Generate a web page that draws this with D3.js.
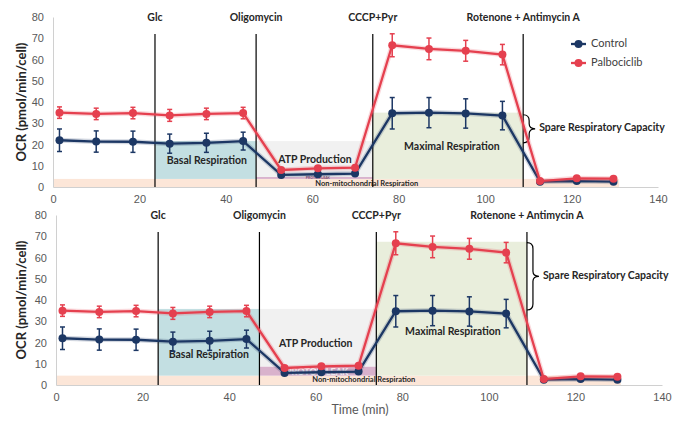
<!DOCTYPE html>
<html>
<head>
<meta charset="utf-8">
<script src="https://cdn.jsdelivr.net/npm/d3@7"></script>
<style>
 body { margin:0; background:#fff; }
 svg { font-family: Lato, "Open Sans", sans-serif; }
</style>
</head>
<body>
<div id="chart"></div>
<script>
// Data
var times      = [1.5, 10, 18.5, 27, 35.5, 44, 52.8, 61.3, 69.9, 78.5, 87, 95.5, 104, 112.7, 121.2, 129.7];
var control    = [22.0, 21.4, 21.3, 20.4, 20.8, 21.6, 5.7, 6.0, 6.3, 34.7, 35.0, 34.6, 33.6, 2.5, 2.8, 2.5];
var controlErr = [5.3, 5.0, 5.0, 4.5, 4.5, 4.2, 0.8, 0.8, 0.8, 7.4, 7.1, 6.9, 6.7, 0.5, 0.5, 0.5];
var palbo      = [35.0, 34.4, 34.8, 33.7, 34.4, 34.8, 8.0, 8.8, 9.1, 66.7, 65.0, 64.1, 62.3, 2.8, 4.1, 3.9];
var palboErr   = [2.7, 2.7, 2.7, 2.8, 2.7, 2.7, 1.0, 1.0, 1.0, 5.4, 5.1, 4.9, 4.8, 0.6, 0.7, 0.7];
var injections = ["Glc", "Oligomycin", "CCCP+Pyr", "Rotenone + Antimycin A"];
var injectAt   = [23.6, 47, 74, 108.8];
var yTicks     = [0, 10, 20, 30, 40, 50, 60, 70, 80];
var xTicks     = [0, 20, 40, 60, 80, 100, 120, 140];

// shaded regions: [x0, x1, y0, y1] in data units, one list per panel
var topRegions = {
 nonMito: [0, 131, 0, 3.8],
 basal:   [23.6, 47, 3.8, 21.6],
 atp:     [47, 74, 4.7, 21.6],
 leak:    [47, 74, 3.8, 4.7],
 maximal: [74, 108.8, 3.8, 35]
};
var bottomRegions = {
 nonMito: [0, 130.5, 0, 4.4],
 basal:   [23.6, 47, 4.4, 35.8],
 atp:     [47, 74, 8.6, 35.8],
 leak:    [47, 74, 4.4, 8.6],
 maximal: [74, 108.8, 4.4, 67.4]
};
var topSpare = [20.8, 34];
var bottomSpare = [35.3, 67];

var W = 692, H = 422;
var navy = "#1c3764", red = "#e5404f";
var fills = {nonMito:"#fce6d8", basal:"#c3dfe2", atp:"#f1f1f1", leak:"#d9b2cc", maximal:"#e9eedc"};

var svg = d3.select("#chart").append("svg").attr("width", W).attr("height", H);

function drawPanel(cfg){
 var g = svg.append("g");
 var x = d3.scaleLinear().domain([0, 140]).range([cfg.left, cfg.right]);
 var y = d3.scaleLinear().domain([0, 80]).range([cfg.bottom, cfg.top]);
 var r = cfg.regions;

 // shaded areas
 Object.keys(r).forEach(function(k){
  var b = r[k];
  g.append("rect")
   .attr("x", x(b[0])).attr("width", x(b[1]) - x(b[0]))
   .attr("y", y(b[3])).attr("height", y(b[2]) - y(b[3]))
   .attr("fill", fills[k]);
 });

 // axes
 var ya = g.append("g").attr("transform", "translate(" + cfg.left + ",0)")
  .call(d3.axisLeft(y).tickValues(yTicks).tickSize(0).tickPadding(9));
 ya.select(".domain").attr("stroke", "#d0d0d0");
 ya.selectAll("text").attr("fill", "#595959").style("font-size", "11px");
 var xa = g.append("g").attr("transform", "translate(0," + cfg.bottom + ")")
  .call(d3.axisBottom(x).tickValues(xTicks).tickSize(0).tickPadding(8));
 xa.select(".domain").attr("stroke", "#d0d0d0");
 xa.selectAll("text").attr("fill", "#595959").style("font-size", "11px");

 g.append("text")
  .attr("transform", "translate(26," + (y(40) - 0) + ") rotate(-90)")
  .attr("text-anchor", "middle")
  .style("font-size", "13px").style("font-weight", "bold").attr("fill", "#262626")
  .text("OCR (pmol/min/cell)");

 // region labels
 var lab = cfg.labels;
 function label(t, p, size, color){
  g.append("text").attr("x", x(p[0])).attr("y", y(p[1]))
   .attr("text-anchor", "middle").attr("dominant-baseline", "middle")
   .style("font-size", size + "px").style("font-weight", "bold")
   .attr("fill", color).text(t);
 }
 label("Basal Respiration", lab.basal, 10.5, "#262626");
 label("ATP Production", lab.atp, 10.5, "#262626");
 label("Maximal Respiration", lab.maximal, 10.5, "#262626");
 label("Non-mitochondrial Respiration", lab.nonMito, 7.5, "#262626");
 label("PROTON LEAK", lab.leak, lab.leakSize, lab.leakColor);

 // injection lines and labels
 injectAt.forEach(function(t, i){
  g.append("line").attr("x1", x(t)).attr("x2", x(t))
   .attr("y1", y(72)).attr("y2", y(0))
   .attr("stroke", "#000").attr("stroke-width", 1.2);
  g.append("text").attr("x", x(t)).attr("y", y(80) + 4)
   .attr("text-anchor", "middle")
   .style("font-size", "10.5px").style("font-weight", "bold").attr("fill", "#262626")
   .text(injections[i]);
 });

 // spare capacity brace
 var sx = x(injectAt[3]), s0 = y(cfg.spare[1]), s1 = y(cfg.spare[0]), sm = (s0 + s1) / 2;
 var bw = 6;
 g.append("path")
  .attr("d", "M" + sx + "," + s0 + " Q" + (sx + bw) + "," + s0 + " " + (sx + bw) + "," + (s0 + 6) +
   " L" + (sx + bw) + "," + (sm - 5) + " Q" + (sx + bw) + "," + sm + " " + (sx + bw * 2) + "," + sm +
   " Q" + (sx + bw) + "," + sm + " " + (sx + bw) + "," + (sm + 5) +
   " L" + (sx + bw) + "," + (s1 - 6) + " Q" + (sx + bw) + "," + s1 + " " + sx + "," + s1)
  .attr("fill", "none").attr("stroke", "#000").attr("stroke-width", 1.2);
 g.append("text").attr("x", sx + bw * 2 + 4).attr("y", sm)
  .attr("dominant-baseline", "middle")
  .style("font-size", "10.5px").style("font-weight", "bold").attr("fill", "#262626")
  .text("Spare Respiratory Capacity");

 // series
 var series = [
  {vals: control, err: controlErr, color: navy},
  {vals: palbo, err: palboErr, color: red}
 ];
 series.forEach(function(s){
  var pts = times.map(function(t, i){ return {t: t, v: s.vals[i], e: s.err[i]}; });
  var line = d3.line().x(function(d){ return x(d.t); }).y(function(d){ return y(d.v); });
  g.append("path").datum(pts).attr("d", line)
   .attr("fill", "none").attr("stroke", s.color).attr("stroke-opacity", 0.2).attr("stroke-width", 5);
  g.append("path").datum(pts).attr("d", line)
   .attr("fill", "none").attr("stroke", s.color).attr("stroke-width", 2.3);
  var eb = g.append("g").selectAll("g").data(pts).enter().append("g")
   .attr("stroke", s.color).attr("stroke-width", 1.5);
  eb.append("line").attr("x1", function(d){ return x(d.t); }).attr("x2", function(d){ return x(d.t); })
   .attr("y1", function(d){ return y(d.v + d.e); }).attr("y2", function(d){ return y(d.v - d.e); });
  eb.append("line").attr("x1", function(d){ return x(d.t) - 2.5; }).attr("x2", function(d){ return x(d.t) + 2.5; })
   .attr("y1", function(d){ return y(d.v + d.e); }).attr("y2", function(d){ return y(d.v + d.e); });
  eb.append("line").attr("x1", function(d){ return x(d.t) - 2.5; }).attr("x2", function(d){ return x(d.t) + 2.5; })
   .attr("y1", function(d){ return y(d.v - d.e); }).attr("y2", function(d){ return y(d.v - d.e); });
  g.append("g").selectAll("circle").data(pts).enter().append("circle")
   .attr("cx", function(d){ return x(d.t); }).attr("cy", function(d){ return y(d.v); })
   .attr("r", 4).attr("fill", s.color);
 });
 return g;
}

drawPanel({
 left: 53, right: 658, top: 17, bottom: 187,
 regions: topRegions, spare: topSpare,
 labels: {basal: [35.6, 11.9], atp: [60.6, 12.4], maximal: [92.3, 18.8], nonMito: [72.6, 1.5],
          leak: [61.3, 4.3], leakSize: 3.5, leakColor: "#7a4a6a"}
});
drawPanel({
 left: 56, right: 662, top: 215, bottom: 385,
 regions: bottomRegions, spare: bottomSpare,
 labels: {basal: [35.3, 14.1], atp: [60, 19.3], maximal: [91.7, 24.6], nonMito: [71.1, 2.1],
          leak: [60.3, 6.0], leakSize: 9, leakColor: "#ffffff"}
});

// legend (top panel)
var legend = [["Control", navy], ["Palbociclib", red]];
legend.forEach(function(l, i){
 var ly = 44 + i * 19;
 svg.append("line").attr("x1", 571).attr("x2", 586).attr("y1", ly).attr("y2", ly)
  .attr("stroke", l[1]).attr("stroke-width", 2.3);
 svg.append("circle").attr("cx", 578.5).attr("cy", ly).attr("r", 4).attr("fill", l[1]);
 svg.append("text").attr("x", 591).attr("y", ly).attr("dominant-baseline", "middle")
  .style("font-size", "11px").attr("fill", "#404040").text(l[0]);
});

svg.append("text").attr("x", 360).attr("y", 414).attr("text-anchor", "middle")
 .style("font-size", "12.5px").attr("fill", "#595959").text("Time (min)");
</script>
</body>
</html>
